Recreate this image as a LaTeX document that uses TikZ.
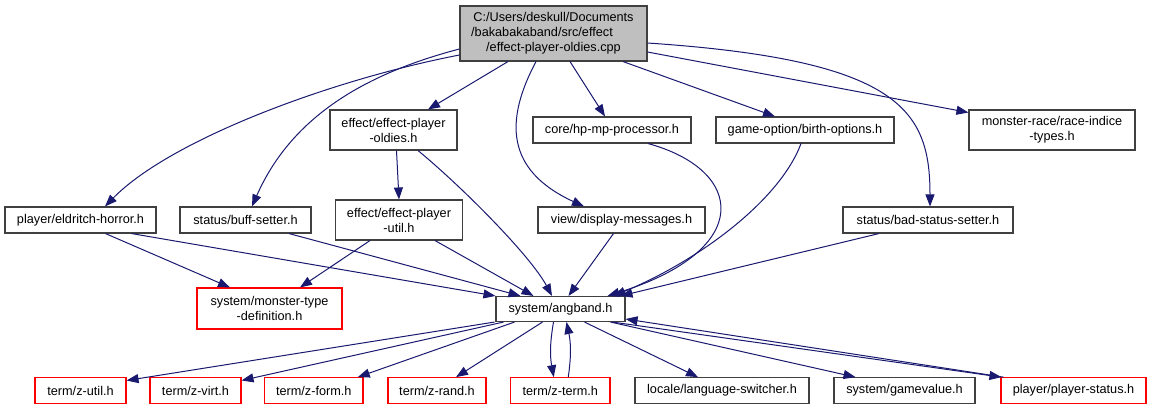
\documentclass[tikz,border=0pt]{standalone}
\usepackage{fontspec}
\setmainfont{Liberation Sans}
\usetikzlibrary{arrows.meta,calc}
\definecolor{edgeblue}{HTML}{191970}
\definecolor{boxgray}{HTML}{404040}
\definecolor{rootfill}{HTML}{BFBFBF}
\begin{document}
\begin{tikzpicture}[x=1pt,y=-1pt]
\tikzset{
  box/.style={draw=boxgray, fill=white, line width=1.1pt, inner sep=0pt, align=center,
    font=\fontsize{12.7}{15}\selectfont, minimum height=26pt},
  redbox/.style={box, draw=red},
  dep/.style={draw=edgeblue, line width=1pt, -{Triangle[length=12pt,width=9pt]}},
}
\useasboundingbox (0,0) rectangle (1151,409);
% nodes
\node[box, fill=rootfill, minimum width=187pt, minimum height=55pt] (root) at (553.5,33.5)
  {C:/Users/deskull/Documents\\/bakabakaband/src/effect\rule{23pt}{0pt}\\/effect-player-oldies.cpp};
\node[box, minimum width=127pt, minimum height=40pt] (oldies) at (393.5,130) {effect/effect-player\\-oldies.h};
\node[box, minimum width=158pt] (core) at (612,130) {core/hp-mp-processor.h};
\node[box, minimum width=178pt] (birth) at (805,130) {game-option/birth-options.h};
\node[box, minimum width=166pt, minimum height=40pt] (mrace) at (1052,130) {monster-race/race-indice\\-types.h};
\node[box, minimum width=151pt] (eldritch) at (80.5,220) {player/eldritch-horror.h};
\node[box, minimum width=131pt] (buff) at (245.5,220) {status/buff-setter.h};
\node[box, minimum width=127pt, minimum height=40pt] (util) at (399,220) {effect/effect-player\\-util.h};
\node[box, minimum width=167pt] (display) at (621.5,220) {view/display-messages.h};
\node[box, minimum width=170pt] (bad) at (928,220) {status/bad-status-setter.h};
\node[redbox, minimum width=145pt, minimum height=41pt] (mtd) at (269.5,308.5) {system/monster-type\\-definition.h};
\node[box, minimum width=129pt, minimum height=25pt] (angband) at (560.5,309) {system/angband.h};
\node[redbox, minimum width=91pt, minimum height=25.6pt] (zutil) at (80.5,390.5) {term/z-util.h};
\node[redbox, minimum width=91pt, minimum height=25.6pt] (zvirt) at (195.5,390.5) {term/z-virt.h};
\node[redbox, minimum width=98.5pt, minimum height=25.6pt] (zform) at (313.75,390.5) {term/z-form.h};
\node[redbox, minimum width=98pt, minimum height=25.6pt] (zrand) at (437,390.5) {term/z-rand.h};
\node[redbox, minimum width=99.5pt, minimum height=25.6pt] (zterm) at (560.25,390.5) {term/z-term.h};
\node[box, minimum width=174pt, minimum height=25.6pt] (lang) at (722,390.5) {locale/language-switcher.h};
\node[box, minimum width=141pt, minimum height=25.6pt] (gamevalue) at (904.5,390.5) {system/gamevalue.h};
\node[redbox, minimum width=145pt, minimum height=25.6pt] (player) at (1073.5,390.5) {player/player-status.h};
% edges from root
\draw[dep] ($(root.south)+(-45.5,0)$) -- ($(oldies.north)+(34.5,0)$);
\draw[dep] ($(root.south)+(16.5,0)$) -- ($(core.north)+(-7,0)$);
\draw[dep] ($(root.south)+(69.5,0)$) -- ($(birth.north)+(-30,0)$);
\draw[dep] ($(root.east)+(0,18.5)$) -- ($(mrace.west)+(0,-17.5)$);
\draw[dep] ($(root.east)+(0,9.5)$) .. controls (900,60) and (930,110) .. ($(bad.north)+(2,0)$);
\draw[dep] ($(root.west)+(0,15.5)$) .. controls (360,75) and (290,120) .. ($(buff.north)+(6.5,0)$);
\draw[dep] ($(root.west)+(0,21.5)$) .. controls (330,80) and (170,140) .. ($(eldritch.north)+(24.5,0)$);
\draw[dep] ($(root.south)+(-17.5,0)$) .. controls (505,120) and (505,170) .. ($(display.north)+(-37.5,0)$);
% middle
\draw[dep] ($(oldies.south)+(3,0)$) -- (util.north);
\draw[dep] ($(oldies.south)+(24.5,0)$) .. controls (460,185) and (530,255) .. ($(angband.north)+(-8.5,0)$);
\draw[dep] ($(core.south)+(36,0)$) .. controls (745,170) and (755,250) .. ($(angband.north)+(47,0)$);
\draw[dep] ($(birth.south)+(-4,0)$) .. controls (780,200) and (700,260) .. ($(angband.north)+(53,0)$);
\draw[dep] ($(bad.south)+(-49,0)$) -- ($(angband.north)+(60,0)$);
\draw[dep] ($(display.south)+(-8,0)$) -- ($(angband.north)+(8,0)$);
\draw[dep] ($(util.south)+(36,0)$) -- ($(angband.north)+(-27,0)$);
\draw[dep] ($(buff.south)+(43.5,0)$) -- ($(angband.north)+(-40,0)$);
\draw[dep] ($(eldritch.south)+(51,0)$) -- (angband.north west);
\draw[dep] ($(eldritch.south)+(25,0)$) -- ($(mtd.north)+(-39.5,0)$);
\draw[dep] ($(util.south)+(-29,0)$) -- ($(mtd.north)+(30.5,0)$);
% bottom
\draw[dep] ($(angband.south)+(-66,0)$) -- ($(zutil.east)+(0,-10)$);
\draw[dep] ($(angband.south)+(-57,0)$) -- ($(zvirt.east)+(0,-10)$);
\draw[dep] ($(angband.south)+(-46,0)$) -- ($(zform.north)+(44,0)$);
\draw[dep] ($(angband.south)+(-18,0)$) -- ($(zrand.north)+(19,0)$);
\draw[dep] ($(angband.south)+(-7,0)$) to[bend right=10] ($(zterm.north)+(-6.5,0)$);
\draw[dep] ($(zterm.north)+(8,0)$) to[bend right=10] ($(angband.south)+(6,0)$);
\draw[dep] ($(angband.south)+(24,0)$) -- ($(lang.north)+(-24,0)$);
\draw[dep] ($(angband.south)+(50,0)$) -- ($(gamevalue.north)+(-49,0)$);
\draw[dep] ($(angband.south)+(52,0)$) -- ($(player.north west)+(1,0)$);
\draw[dep] ($(player.north west)+(3,0)$) -- ($(angband.east)+(0,10)$);
\end{tikzpicture}
\end{document}
